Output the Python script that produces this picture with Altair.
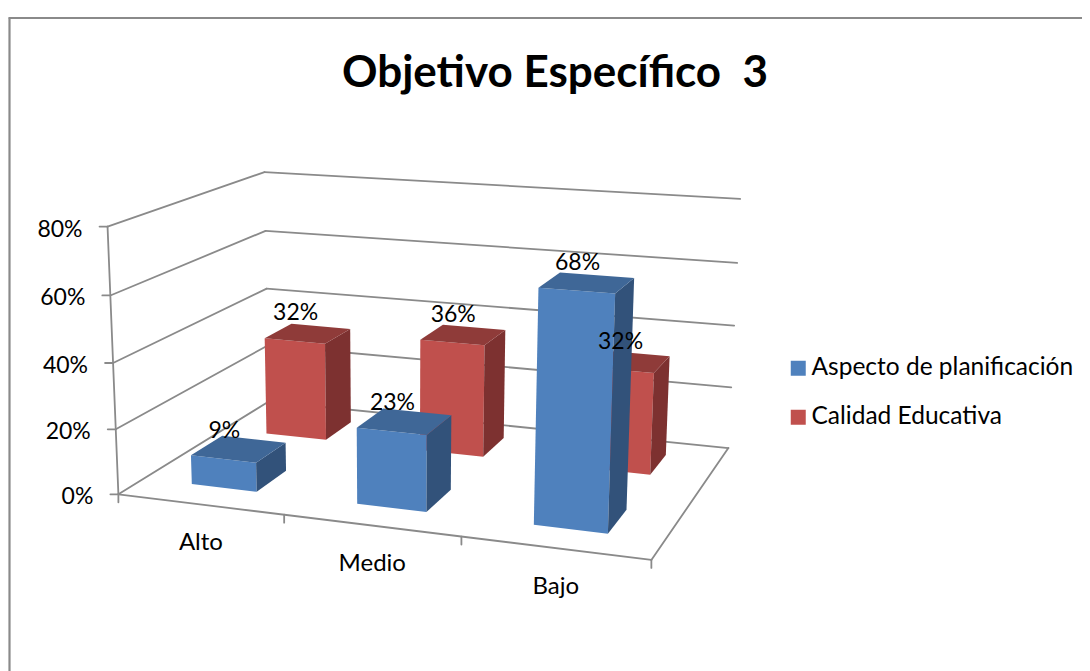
import numpy as np
import altair as alt

TITLE = "Objetivo Específico\u00a0\u00a03"
CATEGORIES = ["Alto", "Medio", "Bajo"]
SERIES = ["Aspecto de planificación", "Calidad Educativa"]
ASPECTO = [9, 23, 68]
CALIDAD = [32, 36, 32]
Y_TICKS = [0, 20, 40, 60, 80]

FRONT = {"Aspecto de planificación": "#4F81BD", "Calidad Educativa": "#C0504D"}
TOP = {"Aspecto de planificación": "#3F6797", "Calidad Educativa": "#8F3B39"}
SIDE = {"Aspecto de planificación": "#32527A", "Calidad Educativa": "#7D3130"}
DEPTH = {"Aspecto de planificación": (0.15, 0.35), "Calidad Educativa": (0.67, 0.87)}
BAR_U = {"Aspecto de planificación": (0.30, 0.70), "Calidad Educativa": (0.285, 0.68)}
GRID = "#8A8A8A"
FONT = "Lato"

W, H = 1074, 663
OX, OY = 8, 8  # page margin

# camera calibration: (category position, depth, percent) -> picture position
CAL_3D = [(0,0,0),(0,0,20),(0,0,40),(0,0,60),(0,0,80),
          (0,1,0),(0,1,40),(0,1,60),(0,1,80),
          (3,1,0),(3,1,20),(3,1,40),(3,1,60),(3,1,80),
          (3,0,0),(1,0,0),(2,0,0)]
CAL_2D = [(119,493),(116,429),(113,362),(110,296),(107,227),
          (268,403),(266.5,288),(266,231),(265,172),
          (728,447),(732,387),(734,326),(737,263),(740,199),
          (651,560),(284,515),(462,538)]

A, b = [], []
for (u, v, w), (x, y) in zip(CAL_3D, CAL_2D):
    A.append([u, v, w, 1, 0, 0, 0, 0, -x*u, -x*v, -x*w]); b.append(x)
    A.append([0, 0, 0, 0, u, v, w, 1, -y*u, -y*v, -y*w]); b.append(y)
sol = np.linalg.lstsq(np.array(A, float), np.array(b, float), rcond=None)[0]
P = np.append(sol, 1.0).reshape(3, 4)


def project(u, v, w):
    p = P @ np.array([u, v, w, 1.0])
    return float(p[0] / p[2] - OX), float(p[1] / p[2] - OY)


# frame, walls, floor
rules = [
    dict(x=1.5, y=10, x2=1.5, y2=H, w=2.2),
    dict(x=1.5, y=10, x2=W, y2=10, w=2.2),
]


def seg(a, b, wd=1.8, dx=(0, 0), dy=(0, 0)):
    rules.append(dict(x=a[0] + dx[0], y=a[1] + dy[0], x2=b[0] + dx[1], y2=b[1] + dy[1], w=wd))


for t in Y_TICKS:
    fl, bl, br = project(0, 0, t), project(0, 1, t), project(3, 1, t)
    seg(fl, bl)
    seg(bl, br)
    seg(fl, fl, dx=(0, -8))
seg(project(0, 0, 0), project(0, 0, 80))
seg(project(0, 0, 0), project(3, 0, 0))
seg(project(3, 0, 0), project(3, 1, 0))
for i in range(4):
    c = project(i, 0, 0)
    seg(c, c, dy=(0, 8))

# bars: every face projected from category, depth and value
faces = []
labels = []
for s, vals in [(SERIES[1], CALIDAD), (SERIES[0], ASPECTO)]:
    v0, v1 = DEPTH[s]
    for i, val in enumerate(vals):
        u0, u1 = i + BAR_U[s][0], i + BAR_U[s][1]
        polys = [
            (FRONT[s], [(u0, v0, 0), (u1, v0, 0), (u1, v0, val), (u0, v0, val)]),
            (SIDE[s], [(u1, v0, 0), (u1, v1, 0), (u1, v1, val), (u1, v0, val)]),
            (TOP[s], [(u0, v0, val), (u1, v0, val), (u1, v1, val), (u0, v1, val)]),
        ]
        for col, pts in polys:
            ring = [list(project(*p)) for p in pts]
            ring.append(ring[0])
            faces.append({"type": "Feature", "properties": {"fill": col},
                          "geometry": {"type": "Polygon", "coordinates": [ring]}})
        lx, ly = project((u0 + u1) / 2, v0, val)
        labels.append(dict(x=lx + 1, y=ly - 28, t=f"{val}%"))

ytext = []
for t in Y_TICKS:
    x, y = project(0, 0, t)
    ytext.append(dict(x=x - 25, y=y + 3, t=f"{t}%"))
ctext = []
for i, c in enumerate(CATEGORIES):
    x, y = project(i + 0.5, 0, 0)
    ctext.append(dict(x=x + 1, y=y + 39, t=c))

X = alt.X("x:Q", axis=None, scale=alt.Scale(domain=[0, W], range=[0, W], nice=False, zero=False))
Y = alt.Y("y:Q", axis=None, scale=alt.Scale(domain=[0, H], range=[0, H], nice=False, zero=False))

rule_layer = alt.Chart(alt.Data(values=rules)).mark_rule(color=GRID, strokeCap="round").encode(
    x=X, y=Y, x2="x2:Q", y2="y2:Q",
    strokeWidth=alt.StrokeWidth("w:Q", scale=None),
)

bars = alt.Chart(alt.Data(values=faces)).mark_geoshape(strokeWidth=0).encode(
    fill=alt.Fill("properties.fill:N", scale=None)
).project(type="identity", scale=1, translate=[0, 0])

legend_layer = alt.Chart(alt.Data(values=[dict(x=300, y=300, s=s) for s in SERIES])).mark_square(
    opacity=0, size=1
).encode(
    x=X, y=Y,
    color=alt.Color("s:N", sort=SERIES,
                    scale=alt.Scale(domain=SERIES, range=[FRONT[s] for s in SERIES]),
                    legend=alt.Legend(title=None, orient="none", legendX=778, legendY=348,
                                      symbolType="square", symbolSize=225, symbolOpacity=1,
                                      symbolStrokeWidth=0, labelFont=FONT, labelFontSize=24.5,
                                      labelColor="black", labelOffset=1, rowPadding=24,
                                      labelLimit=320)),
)


def text_layer(rows, align, size=23):
    return alt.Chart(alt.Data(values=rows)).mark_text(
        align=align, baseline="middle", font=FONT, fontSize=size, color="black"
    ).encode(x=X, y=Y, text="t:N")


chart = alt.layer(
    rule_layer, bars, legend_layer,
    text_layer(labels, "center"),
    text_layer(ytext, "right"),
    text_layer(ctext, "center", 24),
).properties(
    width=W, height=H, padding=0, background="white",
    autosize=alt.AutoSizeParams(type="none"),
    title=alt.TitleParams(TITLE, font=FONT, fontSize=44, fontWeight="bold", color="black",
                          anchor="middle", baseline="alphabetic", offset=0, dx=10, dy=123),
).configure_view(strokeWidth=0, stroke="transparent")

chart.save("out.html", embed_options={"renderer": "svg", "actions": False})
